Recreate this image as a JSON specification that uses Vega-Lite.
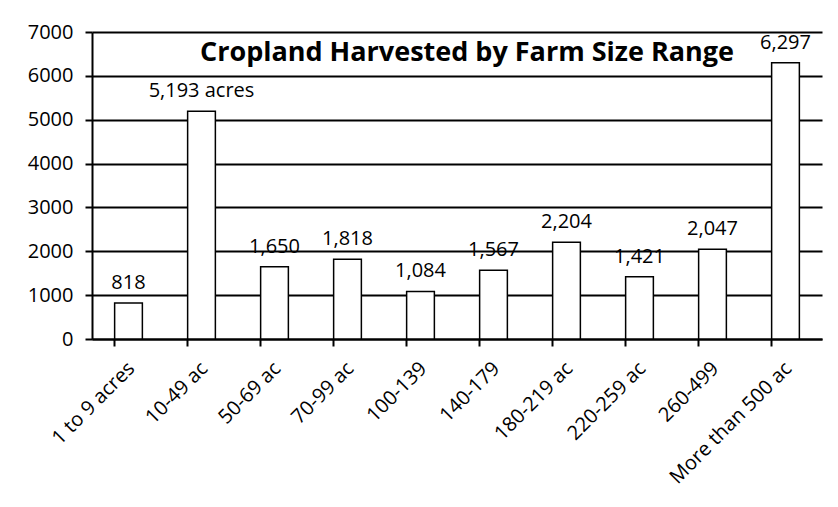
{
  "$schema": "https://vega.github.io/schema/vega-lite/v6.json",
  "autosize": {"type": "none"},
  "width": 730,
  "height": 307,
  "padding": {"left": 92, "top": 32, "right": 16, "bottom": 168},
  "background": "white",
  "config": {
    "font": "Open Sans",
    "view": {"stroke": null},
    "axis": {"labelFont": "Open Sans", "labelFontSize": 20, "labelColor": "black", "domainColor": "black", "domainWidth": 2, "tickColor": "black", "tickWidth": 2, "gridColor": "black", "gridWidth": 2, "gridOpacity": 1, "title": null}
  },
  "title": {"text": "Cropland Harvested by Farm Size Range", "fontSize": 27, "fontWeight": "bold", "font": "Open Sans", "color": "black", "anchor": "middle", "offset": -45, "dx": 10},
  "data": {"values": [
    {"range": "1 to 9 acres", "acres": 818, "label": "818"},
    {"range": "10-49 ac", "acres": 5193, "label": "5,193 acres"},
    {"range": "50-69 ac", "acres": 1650, "label": "1,650"},
    {"range": "70-99 ac", "acres": 1818, "label": "1,818"},
    {"range": "100-139", "acres": 1084, "label": "1,084"},
    {"range": "140-179", "acres": 1567, "label": "1,567"},
    {"range": "180-219 ac", "acres": 2204, "label": "2,204"},
    {"range": "220-259 ac", "acres": 1421, "label": "1,421"},
    {"range": "260-499", "acres": 2047, "label": "2,047"},
    {"range": "More than 500 ac", "acres": 6297, "label": "6,297"}
  ]},
  "encoding": {
    "x": {"field": "range", "type": "nominal", "sort": null, "scale": {"paddingInner": 0.62, "paddingOuter": 0.31},
      "axis": {"labelAngle": -45, "labelAlign": "right", "labelBaseline": "top", "bandPosition": 0, "tickSize": 7, "grid": false, "labelPadding": 12, "labelOffset": -4}},
    "y": {"field": "acres", "type": "quantitative", "scale": {"domain": [0, 7000]},
      "axis": {"values": [0, 1000, 2000, 3000, 4000, 5000, 6000, 7000], "format": "d", "tickSize": 7, "labelPadding": 12, "grid": true}}
  },
  "layer": [
    {"mark": {"type": "bar", "fill": "white", "stroke": "black", "strokeWidth": 1.5}},
    {"mark": {"type": "text", "baseline": "bottom", "dy": -10, "fontSize": 20, "font": "Open Sans", "color": "black"},
     "encoding": {"text": {"field": "label"}}}
  ]
}
